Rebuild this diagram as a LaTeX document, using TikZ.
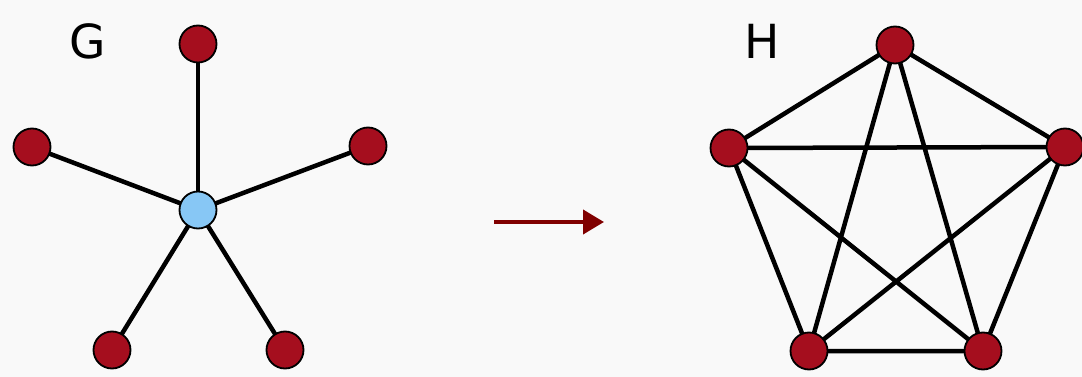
\documentclass[tikz,border=0pt]{standalone}
\usepackage{fontspec}
\setmainfont{DejaVu Sans}
\usetikzlibrary{arrows.meta}
\definecolor{bg}{HTML}{F9F9F9}
\definecolor{nred}{HTML}{A50E1E}
\definecolor{nblue}{HTML}{87C7F5}
\definecolor{arr}{HTML}{800000}
\tikzset{
  vert/.style={circle, draw=black, line width=1.8pt, fill=nred, minimum size=37pt, inner sep=0pt},
  hub/.style={vert, fill=nblue},
  edge/.style={line width=4.5pt, black},
  lbl/.style={font=\fontsize{47}{50}\selectfont, inner sep=0pt}
}
\begin{document}
\begin{tikzpicture}[x=1pt, y=-1pt]
\fill[bg] (0,0) rectangle (1082,377);
\useasboundingbox (0,0) rectangle (1082,377);
% G
\node[lbl] (gl) at (88,41) {G};
\coordinate (c) at (198,210);
\coordinate (g1) at (198,44);
\coordinate (g2) at (32,147);
\coordinate (g3) at (368,146);
\coordinate (g4) at (112,350);
\coordinate (g5) at (285,350);
\foreach \n in {g1,g2,g3,g4,g5} \draw[edge] (c) -- (\n);
\node[hub] (gc) at (c) {};
\node[vert] (gv1) at (g1) {};
\node[vert] (gv2) at (g2) {};
\node[vert] (gv3) at (g3) {};
\node[vert] (gv4) at (g4) {};
\node[vert] (gv5) at (g5) {};
% arrow
\coordinate (a1) at (494,222);
\coordinate (a2) at (604,222);
\draw[arr, line width=4pt, -{Triangle[length=21pt,width=24pt]}] (a1) -- (a2);
% H
\node[lbl] (hl) at (762,41) {H};
\coordinate (p1) at (895,45);
\coordinate (p2) at (729,148);
\coordinate (p3) at (1065,147);
\coordinate (p4) at (809,351);
\coordinate (p5) at (983,351);
\draw[edge] (p1)--(p2) (p1)--(p3) (p1)--(p4) (p1)--(p5) (p2)--(p3) (p2)--(p4) (p2)--(p5) (p3)--(p4) (p3)--(p5) (p4)--(p5);
\node[vert] (h1) at (p1) {};
\node[vert] (h2) at (p2) {};
\node[vert] (h3) at (p3) {};
\node[vert] (h4) at (p4) {};
\node[vert] (h5) at (p5) {};
\end{tikzpicture}
\end{document}
